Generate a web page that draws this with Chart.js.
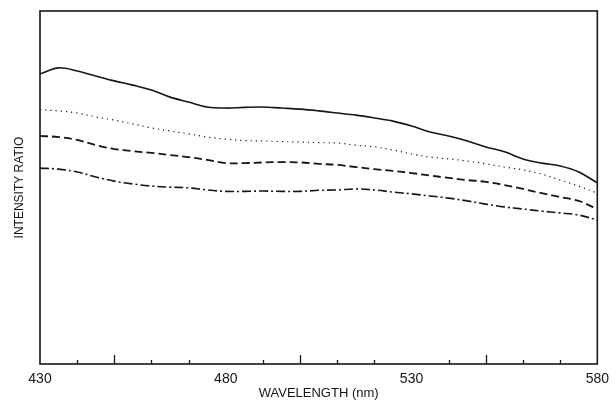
<!DOCTYPE html>
<html>
<head>
<meta charset="utf-8">
<script src="https://cdn.jsdelivr.net/npm/chart.js@4/dist/chart.umd.min.js"></script>
<style>
  html, body { margin: 0; padding: 0; background: #fff; }
  #wrap { width: 616px; height: 402px; }
</style>
</head>
<body>
<div id="wrap"><canvas id="spectrum"></canvas></div>
<script>
// ---------------------------------------------------------------- data
const wavelengths = [430, 435, 440, 445, 450, 455, 460, 465, 470, 475, 480, 485, 490, 495, 500, 505,
    510, 515, 520, 525, 530, 535, 540, 545, 550, 555, 560, 565, 570, 575, 580]

// intensity ratio, arbitrary units (0 = axis bottom, 100 = frame top)
const solidCurve = [82.2, 83.9, 83.0, 81.6, 80.2, 79.0, 77.6, 75.6, 74.2, 72.8, 72.5, 72.7, 72.8, 72.5, 72.2, 71.7,
    71.1, 70.5, 69.7, 68.8, 67.4, 65.7, 64.6, 63.2, 61.5, 60.1, 58.1, 56.9, 56.1, 54.4, 51.3]
const dottedCurve = [72.0, 71.7, 71.1, 70.0, 69.1, 68.0, 66.9, 66.0, 65.2, 64.3, 63.7, 63.3, 63.2, 63.0, 62.9, 62.7,
    62.6, 62.0, 61.5, 60.6, 59.5, 58.6, 58.1, 57.5, 56.7, 55.8, 55.0, 53.8, 52.1, 50.4, 48.4]
const dashedCurve = [64.6, 64.3, 63.5, 62.0, 60.9, 60.3, 59.8, 59.2, 58.6, 57.8, 56.9, 56.9, 57.1, 57.2, 57.1, 56.7,
    56.4, 55.8, 55.2, 54.7, 54.1, 53.4, 52.7, 52.1, 51.6, 50.7, 49.6, 48.4, 47.3, 46.2, 43.9]
const dashDotCurve = [55.5, 55.2, 54.4, 53.0, 51.8, 51.0, 50.4, 50.1, 49.9, 49.3, 48.9, 48.9, 49.0, 48.9, 48.9, 49.2,
    49.3, 49.6, 49.3, 48.7, 48.2, 47.6, 47.0, 46.2, 45.3, 44.5, 43.9, 43.3, 42.8, 42.2, 40.8]

const labelTicks = [430, 480, 530, 580]
const minorTicks = [440, 460, 470, 490, 510, 520, 540, 560, 570]
const majorTicks = [450, 500, 550]

const ink = '#161616'

const toPoints = ys => ys.map((y, i) => ({ x: wavelengths[i], y: y }))

// ---------------------------------------------------------------- frame + inward ticks
const framePlugin = {
    id: 'frame',
    afterDatasetsDraw(chart) {
        const { ctx, chartArea: a, scales } = chart
        ctx.save()
        ctx.strokeStyle = ink
        ctx.lineWidth = 1.6
        ctx.strokeRect(a.left, a.top, a.right - a.left, a.bottom - a.top)
        ctx.lineWidth = 1.3
        const tick = (v, len) => {
            const x = Math.round(scales.x.getPixelForValue(v)) + 0.5
            ctx.beginPath()
            ctx.moveTo(x, a.bottom)
            ctx.lineTo(x, a.bottom - len)
            ctx.stroke()
        }
        minorTicks.forEach(v => tick(v, 4))
        majorTicks.forEach(v => tick(v, 9))
        ctx.restore()
    }
}

const lineStyle = (label, data, dash, width) => ({
    label: label,
    data: toPoints(data),
    borderColor: ink,
    borderWidth: width,
    borderDash: dash,
    pointRadius: 0,
    tension: 0.35,
    fill: false
})

const config = {
    type: 'line',
    data: {
        datasets: [
            lineStyle('solid', solidCurve, [], 1.6),
            lineStyle('dotted', dottedCurve, [1.2, 4], 1.2),
            lineStyle('dashed', dashedCurve, [8, 4], 1.8),
            lineStyle('dash-dot', dashDotCurve, [9, 3, 2, 3], 1.6)
        ]
    },
    options: {
        responsive: true,
        maintainAspectRatio: false,
        animation: false,
        events: [],
        layout: { padding: { top: 11, right: 14, left: 0, bottom: 0 } },
        plugins: {
            legend: { display: false },
            tooltip: { enabled: false }
        },
        scales: {
            x: {
                type: 'linear',
                min: 430,
                max: 580,
                afterBuildTicks: s => { s.ticks = labelTicks.map(v => ({ value: v })) },
                afterFit: s => { s.height = 38 },
                grid: { display: false, drawTicks: false },
                border: { display: false },
                ticks: {
                    padding: 7,
                    color: ink,
                    font: { family: 'Liberation Sans', size: 14 },
                    maxRotation: 0
                },
                title: {
                    display: true,
                    text: 'WAVELENGTH (nm)',
                    color: ink,
                    font: { family: 'Liberation Sans', size: 13 },
                    padding: { top: 0, bottom: 1 }
                }
            },
            y: {
                min: 0,
                max: 100,
                afterFit: s => { s.width = 40 },
                grid: { display: false, drawTicks: false },
                border: { display: false },
                ticks: { display: false },
                title: {
                    display: true,
                    text: 'INTENSITY RATIO',
                    color: ink,
                    font: { family: 'Liberation Sans', size: 12 },
                    padding: { top: 12, bottom: 0 }
                }
            }
        }
    },
    plugins: [framePlugin]
}

let spectrumChart = new Chart(document.getElementById('spectrum'), config)
</script>
</body>
</html>
